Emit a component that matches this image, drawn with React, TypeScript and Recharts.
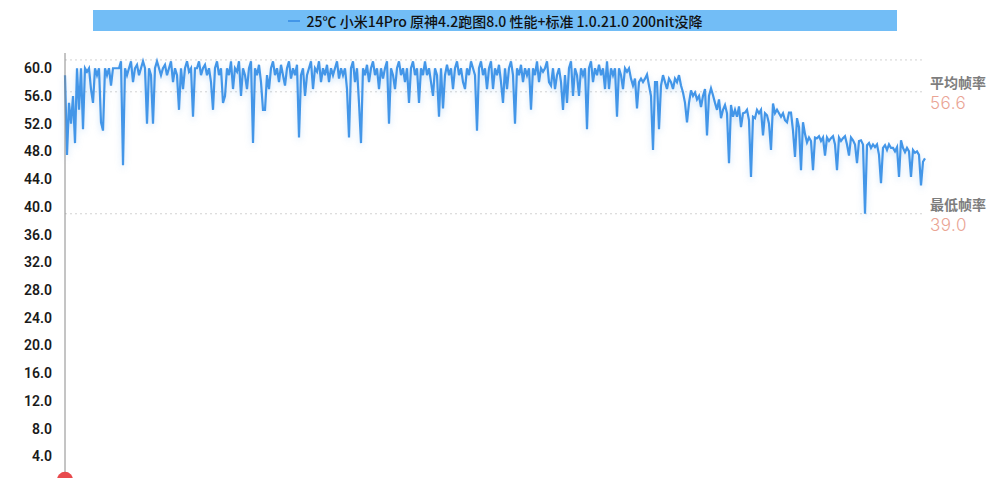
import { LineChart, Line, XAxis, YAxis, ReferenceLine, ReferenceDot, Legend } from 'recharts'

// frame rate samples, one every ~2px of the original trace
const frameRate = [
  59, 47.5, 55, 52, 56, 49.2, 60, 54, 60, 51.2, 60, 59.5, 60, 57, 55, 60, 59, 60, 52.2, 51,
  60, 59, 60, 57.5, 60, 60, 60, 60, 61, 46, 60, 59, 60, 61, 58, 60, 60.5, 59, 60, 61,
  60, 52, 60, 59, 52, 60, 61, 60, 59, 60, 60.5, 59, 60, 61, 58, 60, 59, 54, 60, 57,
  60, 61, 59.5, 60, 53, 60, 60, 61, 59, 60, 60.5, 59, 60, 58, 54, 60, 61, 59, 60, 55,
  56, 60, 59, 61, 57, 60, 59.5, 61, 56, 60, 59, 57, 60, 61, 49.2, 60, 59, 60.5, 58, 54,
  54, 59, 57, 60, 61, 59, 60, 58, 60.5, 59, 57.5, 60, 61, 58.5, 60, 59, 60.5, 50, 59, 60,
  56, 59, 60, 61, 57, 60, 59.5, 61, 58, 60, 59, 60.5, 58, 60, 59, 60, 61, 58.5, 60, 59,
  60, 57, 50, 60, 61, 58, 60, 55, 49.2, 60, 59, 60.5, 58, 60, 61, 59, 60, 57, 60, 58.5,
  60, 61, 52, 60, 59, 57, 60, 61, 59, 60, 58, 60, 55, 60, 61, 59, 60, 55, 60, 59,
  61, 59, 60, 58, 56, 60, 59, 53, 60, 54.2, 59, 60.5, 59, 60, 57, 60, 61, 59, 60, 58,
  57, 60, 59, 61, 60, 59, 51, 60, 61, 59, 60, 57, 60, 61, 57, 60, 59, 60.5, 58, 55,
  60, 57, 60, 61, 59, 52, 60, 59, 60.5, 58, 60, 59, 60, 54, 60, 59, 61, 58, 60, 59.5,
  60, 61, 58, 57.5, 60, 57, 59, 60, 58, 54, 59, 55, 60, 61, 56, 60, 59, 56, 60, 59,
  60, 51.2, 60, 61, 58, 60, 59, 60.5, 59, 60, 57, 61, 57, 60, 59, 60, 53, 60, 59, 57,
  60, 59.5, 60, 58.5, 57.5, 58.5, 54.2, 58, 58.5, 58, 58.5, 59.1, 57.5, 56, 48.2, 58, 58, 51.2, 57.5, 59,
  58, 57, 58.5, 58, 57, 58.5, 58, 59, 57.5, 56.5, 55, 52.2, 55, 56.8, 56, 56.5, 55.5, 56, 54.4, 56,
  57, 50.3, 56, 57.1, 56.1, 55, 54, 55.5, 52.8, 54, 54.7, 53.5, 46.3, 54.7, 53, 54, 53, 54.5, 51.5, 53.5,
  53.6, 54, 52.5, 44.3, 53, 52.8, 54, 53.5, 54, 50.3, 53.5, 53.2, 52, 48.2, 54.9, 53.5, 54, 53.5, 53, 53.5,
  52.5, 52.2, 53.6, 53.6, 51, 47.2, 52.8, 51.5, 45.3, 52.2, 50.5, 49.3, 50, 49.5, 45.3, 50, 49.9, 50.2, 49.5, 50,
  47.4, 50, 49.5, 49.9, 50.2, 49, 45.3, 50, 49.5, 49.9, 50.2, 49, 47.4, 50, 49.6, 49, 46.3, 49.5, 49.6, 49,
  39, 48.9, 49.2, 48.5, 49, 48.6, 49, 47.5, 43.4, 48.5, 48.9, 48.2, 49, 48.5, 48.5, 48, 48.6, 44.3, 49.6, 48.5,
  47.9, 48.5, 48, 44.3, 48.2, 47.8, 48, 47.5, 43.1, 46.5, 47,
]

const yTicks = [4, 8, 12, 16, 20, 24, 28, 32, 36, 40, 44, 48, 52, 56, 60]
const seriesName = '25℃ 小米14Pro 原神4.2跑图8.0 性能+标准 1.0.21.0 200nit没降'
const avgFps = 56.6
const minFps = 39.0
const topGuide = 61.2

const data = frameRate.map((v, i) => ({ i, fps: v }))

const LINE_COLOR = '#4396e8'
const GUIDE = '#d2d2d2'

function noteLabel(title: string, value: string) {
  return (props: any) => {
    const vb = props.viewBox || {}
    const x = (vb.x || 0) + (vb.width || 0) + 5
    const y = vb.y || 0
    return (
      <g>
        <text x={x} y={y - 10} dominantBaseline="central" fill="#7d7d7d" fontSize={14}
          fontWeight={700} fontFamily='"Noto Sans CJK SC", sans-serif'>{title}</text>
        <text x={x} y={y + 11} dominantBaseline="central" fill="#eaa494" fontSize={17}
          fontWeight={300} letterSpacing={0.5} fontFamily='Inter, sans-serif'>{value}</text>
      </g>
    )
  }
}

function TitleBar() {
  return (
    <div style={{
      width: 804, height: 21, background: '#72bdf6', display: 'flex',
      alignItems: 'center', justifyContent: 'center', gap: 7,
      fontFamily: '"Noto Sans CJK SC", sans-serif', fontSize: 14, fontWeight: 500, color: '#111',
    }}>
      <svg width={12} height={4}><line x1={0} y1={2} x2={12} y2={2} stroke={LINE_COLOR} strokeWidth={2} /></svg>
      <span>{seriesName}</span>
    </div>
  )
}

export default function App() {
  return (
    <div style={{ position: 'fixed', top: 0, left: 0, width: 1000, height: 478, overflow: 'hidden', background: '#fff' }}>
      <style>{`.recharts-line-curve { filter: drop-shadow(0 3px 3px rgba(67,150,232,0.25)); }`}</style>
      <LineChart width={1000} height={500} data={data} margin={{ top: 53, right: 75, bottom: 16, left: 0 }}>
        <XAxis dataKey="i" type="number" domain={[0, frameRate.length - 1]} hide />
        <YAxis
          type="number"
          domain={[0, 62.2]}
          ticks={yTicks}
          width={65}
          interval={0}
          tickFormatter={(v: number) => v.toFixed(1)}
          tick={{ fill: '#1a1a1a', fontSize: 14, fontWeight: 600, fontFamily: 'Roboto, sans-serif' }}
          tickLine={false}
          tickSize={0}
          tickMargin={13}
          axisLine={{ stroke: '#8a8a8a' }}
        />
        <Legend
          verticalAlign="middle"
          wrapperStyle={{ top: 10, left: 93, width: 804 }}
          content={() => <TitleBar />}
        />
        <ReferenceLine y={topGuide} stroke={GUIDE} strokeDasharray="2 3" />
        <ReferenceLine y={avgFps} stroke={GUIDE} strokeDasharray="2 3"
          label={{ content: noteLabel('平均帧率', avgFps.toFixed(1)) }} />
        <ReferenceLine y={minFps} stroke={GUIDE} strokeDasharray="2 3"
          label={{ content: noteLabel('最低帧率', minFps.toFixed(1)) }} />
        <Line
          type="linear"
          dataKey="fps"
          name={seriesName}
          stroke={LINE_COLOR}
          strokeWidth={2.2}
          dot={false}
          isAnimationActive={false}
        />
        <ReferenceDot x={0} y={0.6} r={8} fill="#e84a4d" stroke="none" ifOverflow="visible" />
      </LineChart>
    </div>
  )
}
